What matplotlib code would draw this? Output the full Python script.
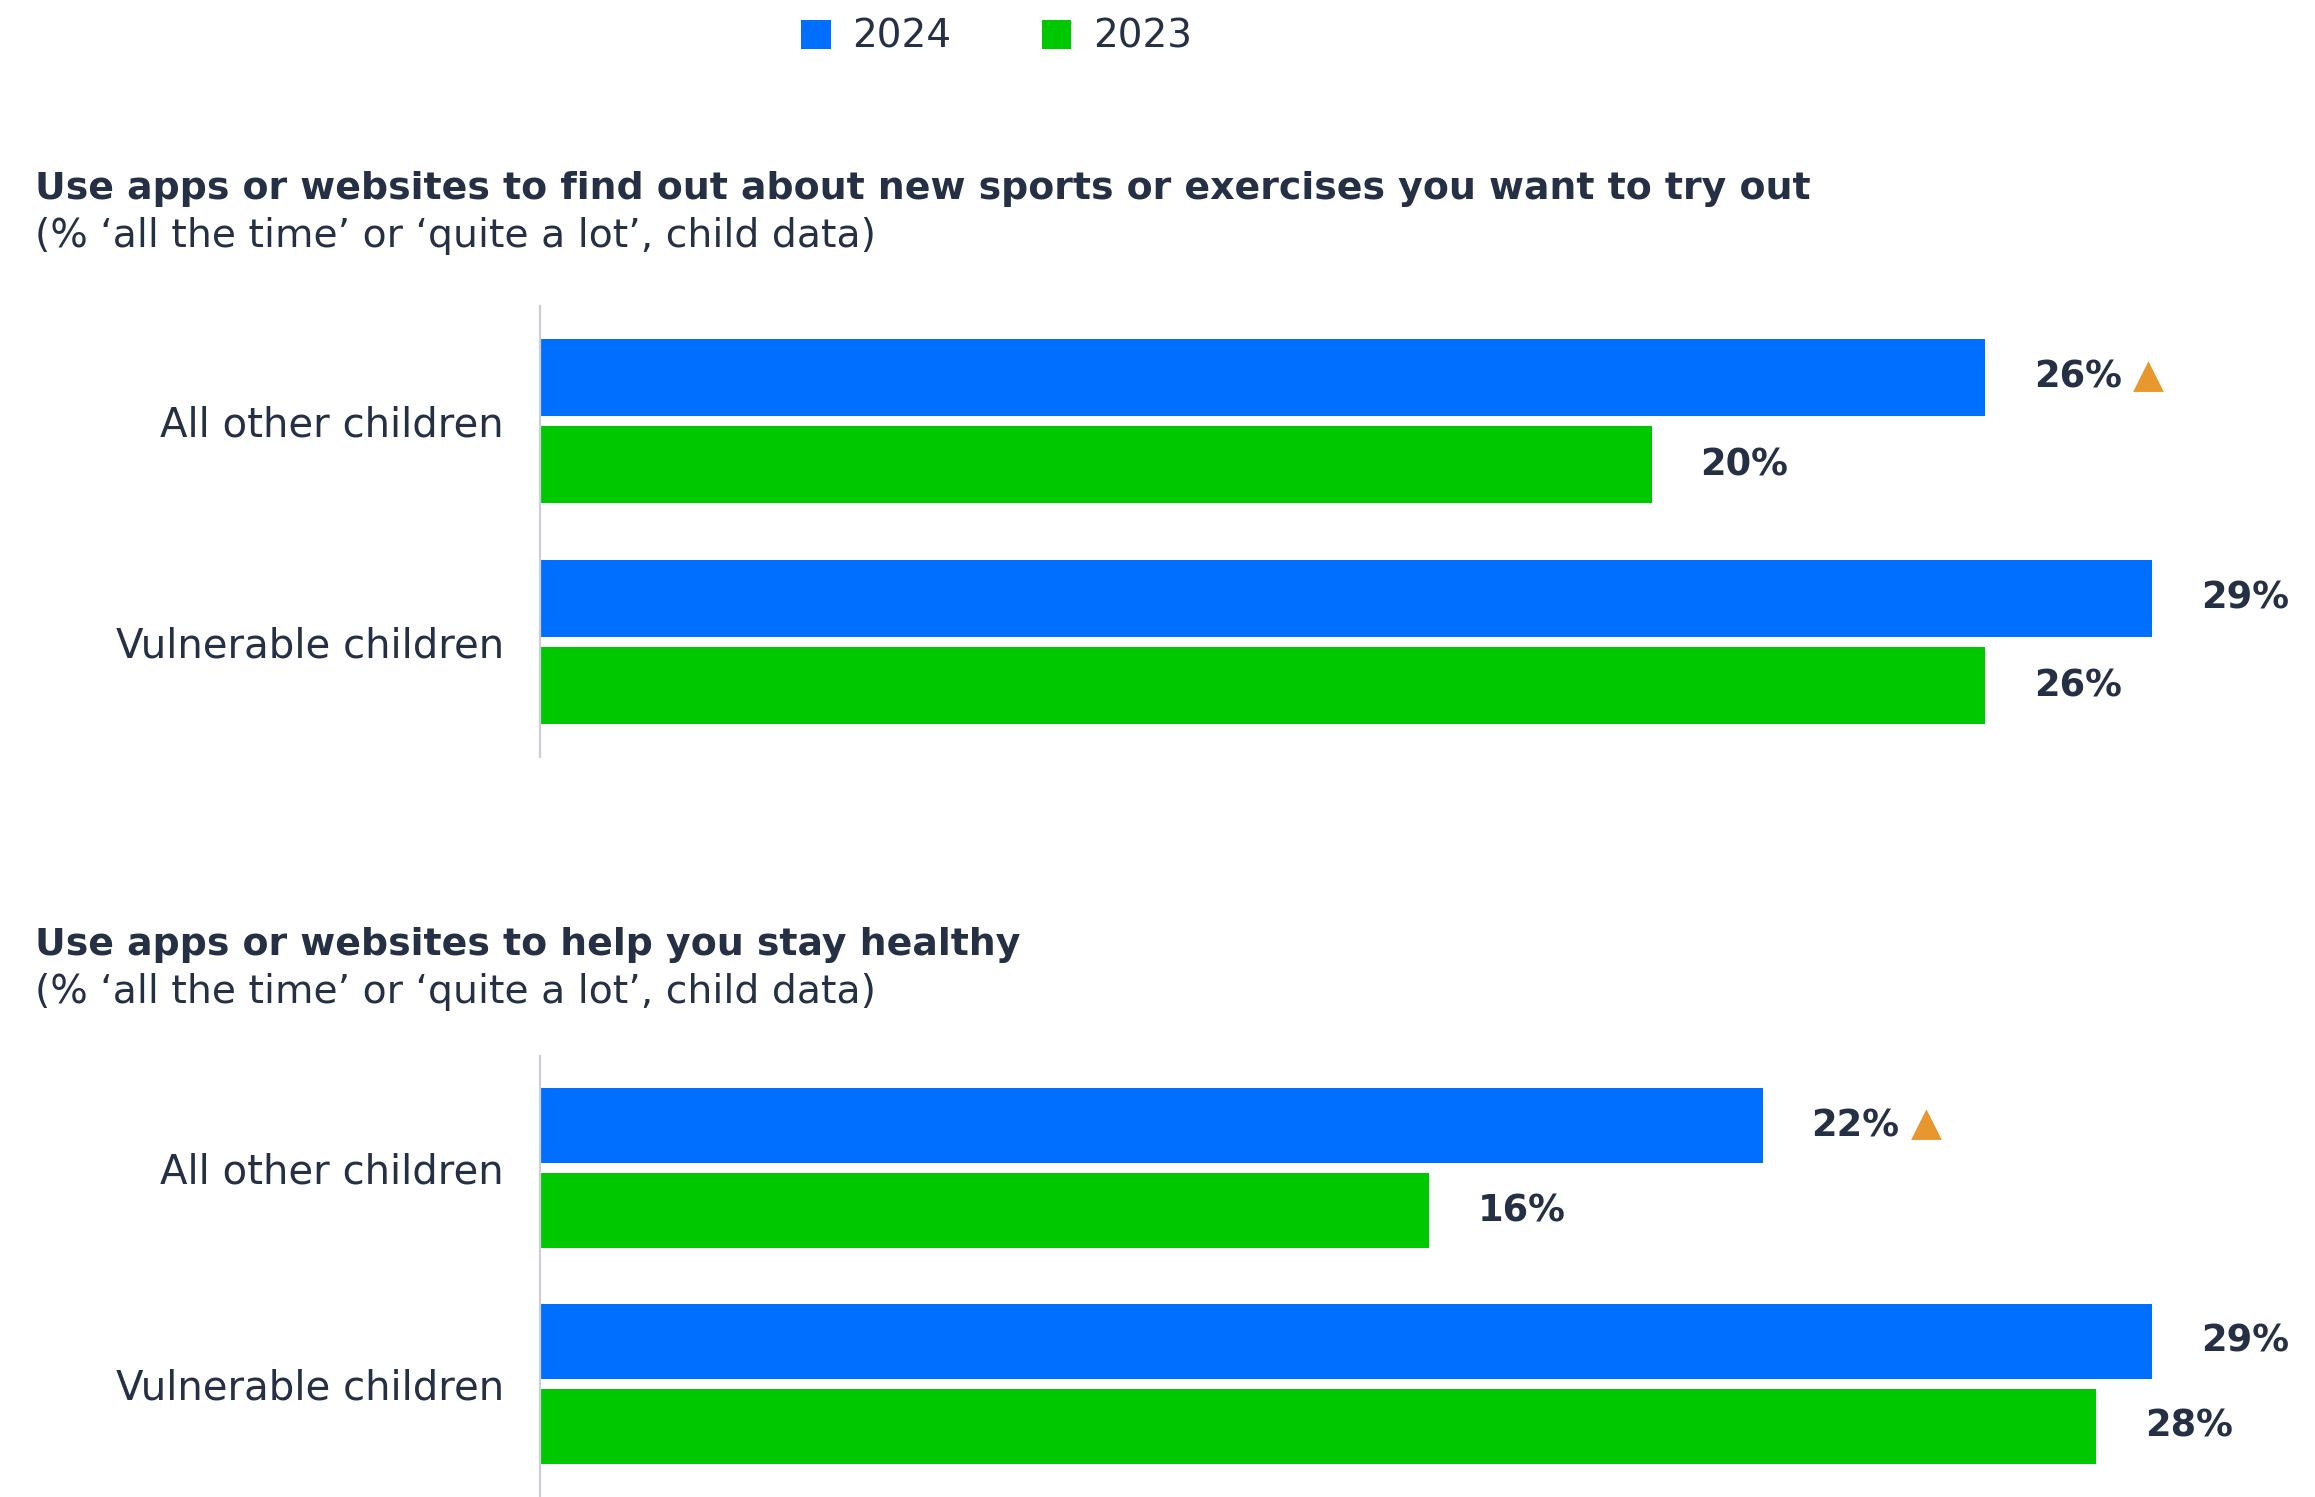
import matplotlib
matplotlib.use("Agg")
import matplotlib.pyplot as plt
from matplotlib.patches import Patch
from matplotlib.transforms import ScaledTranslation

# Data
groups = ["All other children", "Vulnerable children"]
series = ["2024", "2023"]
sports_2024 = [26, 29]
sports_2023 = [20, 26]
healthy_2024 = [22, 29]
healthy_2023 = [16, 28]
# groups whose 2024 value is flagged as a significant increase
sports_flag = [True, False]
healthy_flag = [True, False]

titles = [
    "Use apps or websites to find out about new sports or exercises you want to try out",
    "Use apps or websites to help you stay healthy",
]
subtitle = "(% \u2018all the time\u2019 or \u2018quite a lot\u2019, child data)"

BLUE = "#006EFF"
GREEN = "#00C800"
TEXT = "#253045"
ORANGE = "#E8962E"
AXIS = "#CBD0D6"

FONT = "DejaVu Sans"
plt.rcParams["font.family"] = [FONT]

W, H = 2315, 1497
fig = plt.figure(figsize=(W / 100, H / 100), dpi=100)

# axes placed in pixel terms (left, top, bottom)
ax_left = 540 / W
ax_width = 1776 / W
panels = [
    (306, 757, sports_2024, sports_2023, sports_flag),
    (1056, 1496, healthy_2024, healthy_2023, healthy_flag),
]

offset = 0.197
height = 0.348
lift = ScaledTranslation(0, 5 / 100, fig.dpi_scale_trans)

for top, bottom, v24, v23, flags in panels:
    ax = fig.add_axes([ax_left, 1 - bottom / H, ax_width, (bottom - top) / H])
    ys = range(len(groups))
    b1 = ax.barh([y - offset for y in ys], v24, height=height, color=BLUE)
    b2 = ax.barh([y + offset for y in ys], v23, height=height, color=GREEN)
    ax.set_xlim(0, 31.95)
    ax.set_ylim(1.52, -0.52)
    ax.set_yticks(list(ys))
    ax.set_yticklabels(groups, fontsize=29, color=TEXT)
    for lab in ax.get_yticklabels():
        lab.set_transform(lab.get_transform() + lift)
    ax.tick_params(axis="y", length=0, pad=26)
    ax.set_xticks([])
    for s in ["top", "right", "bottom"]:
        ax.spines[s].set_visible(False)
    ax.spines["left"].set_color(AXIS)
    ax.spines["left"].set_linewidth(1.6)
    for bars, vals, flg in ((b1, v24, flags), (b2, v23, [False] * len(v23))):
        for rect, v, f in zip(bars, vals, flg):
            yc = rect.get_y() + rect.get_height() / 2
            t = ax.annotate(f"{v}%", xy=(v, yc), xytext=(35, 0),
                            textcoords="offset points", va="center", ha="left",
                            fontsize=26.5, fontweight="bold", color=TEXT,
                            annotation_clip=False)
            if f:
                ax.annotate("\u25B2", xy=(1, 0.5), xycoords=t, xytext=(8, 1),
                            textcoords="offset points", va="center", ha="left",
                            fontsize=29, color=ORANGE)

# Section titles
title_pos = [(189, 236), (945, 992)]
for title, (yt, ys_) in zip(titles, title_pos):
    fig.text(35 / W, 1 - yt / H, title, fontsize=27.3, fontweight="bold",
             color=TEXT, va="center", ha="left")
    fig.text(35 / W, 1 - ys_ / H, subtitle, fontsize=28.4,
             color=TEXT, va="center", ha="left")

# Legend
handles = [Patch(facecolor=BLUE), Patch(facecolor=GREEN)]
fig.legend(handles, series, loc="center", bbox_to_anchor=(0.4305, 1 - 37 / H),
           ncol=2, frameon=False, fontsize=28, labelcolor=TEXT,
           handlelength=0.75, handleheight=0.75, handletextpad=0.55,
           columnspacing=2.35)

fig.savefig("out.png", dpi=100)
